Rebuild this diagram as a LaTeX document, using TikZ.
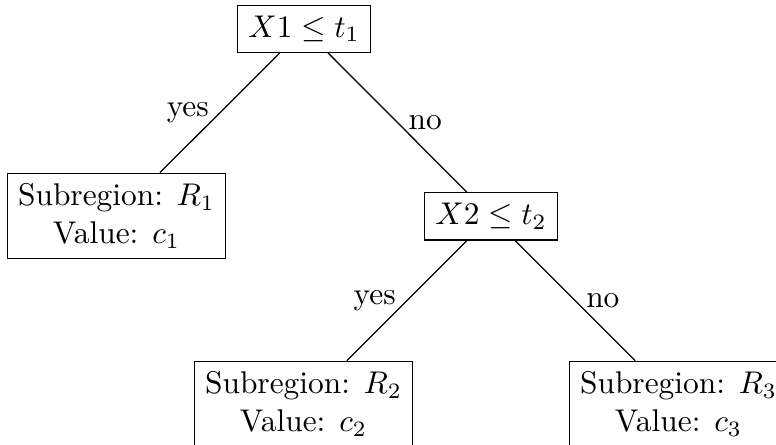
\documentclass[tikz,border=0pt]{standalone}
\usepackage{amsmath}
\begin{document}
\begin{tikzpicture}[x=0.3185pt,y=-0.3185pt,
  box/.style={draw, rectangle, align=center, inner sep=3.33pt}]
\clip (0,0) rectangle (776,445);
\useasboundingbox (0,0) rectangle (776,445);
\node[box] (root) at (304,28.8) {$X1 \leq t_1$};
\node[box] (r1) at (116.5,216) {Subregion: $R_1$\\Value: $c_1$};
\node[box] (x2) at (491,216.4) {$X2 \leq t_2$};
\node[box] (r2) at (303.5,404) {Subregion: $R_2$\\Value: $c_2$};
\node[box] (r3) at (678.5,404) {Subregion: $R_3$\\Value: $c_3$};
\draw (root) -- node[left] {yes} (r1);
\draw (root) -- node[right] {no} (x2);
\draw (x2) -- node[left] {yes} (r2);
\draw (x2) -- node[right] {no} (r3);
\end{tikzpicture}
\end{document}
